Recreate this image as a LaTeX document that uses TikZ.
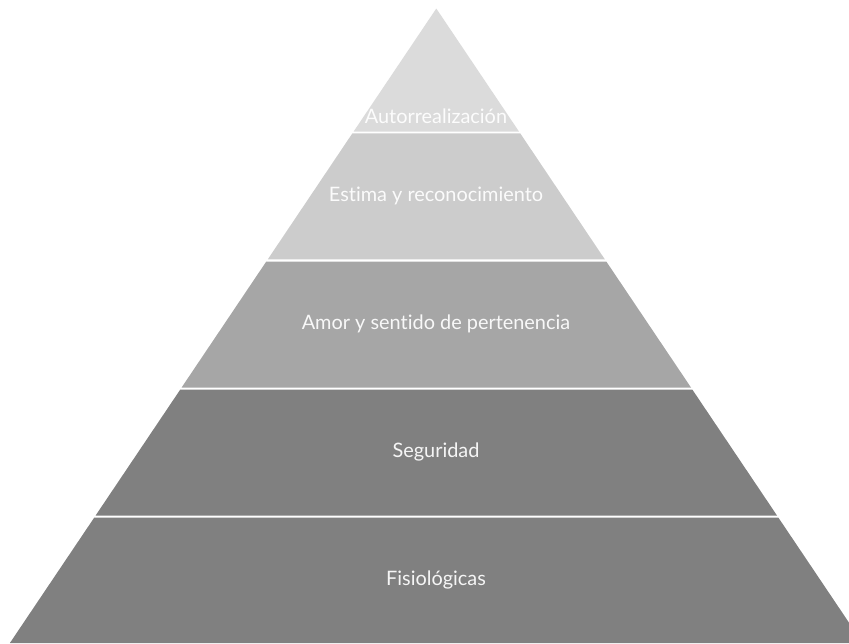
\documentclass[tikz,border=0pt]{standalone}
\usepackage{fontspec}
\setmainfont{Lato}[Ligatures={NoCommon,NoRare,NoDiscretionary}]
\begin{document}
\begin{tikzpicture}[x=1pt,y=-1pt,
  band/.style={draw=none},
  lbl/.style={text=white, text opacity=0.92, font=\fontsize{19.9}{23}\selectfont, inner sep=0pt}]
\useasboundingbox (0,0) rectangle (849,643);
\begin{scope}
\clip (0,0) rectangle (849,643);
% five levels of the pyramid, apex at the top, separated by thin white gaps
\fill[band, fill=black!14] (436.3,8.5) -- (519.1,131.7) -- (353.5,131.7) -- cycle;
\fill[band, fill=black!20] (352.4,133.3) -- (520.2,133.3) -- (604.8,259.3) -- (267.8,259.3) -- cycle;
\fill[band, fill=black!35] (266.3,261.5) -- (606.3,261.5) -- (691.0,387.5) -- (181.6,387.5) -- cycle;
\fill[band, fill=black!50] (180.3,389.5) -- (692.3,389.5) -- (777.0,515.5) -- (95.6,515.5) -- cycle;
\fill[band, fill=black!50] (94.3,517.5) -- (778.3,517.5) -- (862.7,643) -- (9.9,643) -- cycle;
\end{scope}
\node[lbl, anchor=base] (autor) at (436,123) {Autorrealización};
\node[lbl] (estima) at (436,196) {Estima y reconocimiento};
\node[lbl] (amor) at (436,324) {Amor y sentido de pertenencia};
\node[lbl] (seguridad) at (436,452) {Seguridad};
\node[lbl] (fisio) at (436,580) {Fisiológicas};
\end{tikzpicture}
\end{document}
